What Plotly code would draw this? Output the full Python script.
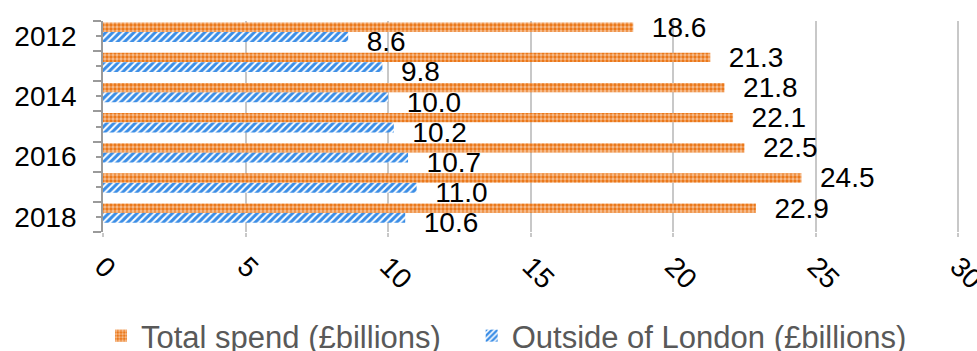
import plotly.graph_objects as go

# Data
years = ["2012", "2013", "2014", "2015", "2016", "2017", "2018"]
total_spend = [18.6, 21.3, 21.8, 22.1, 22.5, 24.5, 22.9]
outside_london = [8.6, 9.8, 10.0, 10.2, 10.7, 11.0, 10.6]
x_ticks = [0, 5, 10, 15, 20, 25, 30]
series_names = ["Total spend (£billions)", "Outside of London (£billions)"]

pos = list(range(len(years)))
year_labels = [y if i % 2 == 0 else "" for i, y in enumerate(years)]
bounds = [p - 0.5 for p in pos] + [pos[-1] + 0.5]

ORANGE = "#EA7210"
BLUE = "#3A8DE6"
AXIS = "#9A9A9A"
GRID = "#C8C8C8"
FONT = "Liberation Sans, Arial, sans-serif"
LABEL_SIZE = 28

fig = go.Figure()

# value labels of the blue series, placed slightly below the blue bars
fig.add_trace(go.Bar(
    y=pos, x=outside_london, orientation="h",
    offset=0.09, width=0.2,
    marker=dict(color="rgba(0,0,0,0)", line=dict(width=0)),
    text=[f"{v:.1f}" for v in outside_london],
    texttemplate="  %{text}", textposition="outside", constraintext="none",
    textfont=dict(size=LABEL_SIZE, color="black", family=FONT),
    cliponaxis=True, showlegend=False, hoverinfo="skip",
))

fig.add_trace(go.Bar(
    name=series_names[1],
    y=pos, x=outside_london, orientation="h",
    offset=-0.135, width=0.33,
    marker=dict(color=BLUE, line=dict(width=0),
                pattern=dict(shape="/", fillmode="replace", fgcolor=BLUE,
                             bgcolor="white", size=5, solidity=0.6)),
    legendrank=2,
))

fig.add_trace(go.Bar(
    name=series_names[0] + "\u00a0" * 3,
    y=pos, x=total_spend, orientation="h",
    offset=-0.447, width=0.31,
    marker=dict(color=ORANGE, line=dict(width=0),
                pattern=dict(shape=".", fillmode="overlay", fgcolor="white",
                             bgcolor=ORANGE, size=4, solidity=0.55)),
    text=[f"{v:.1f}" for v in total_spend],
    texttemplate="  %{text}", textposition="outside", constraintext="none",
    textfont=dict(size=LABEL_SIZE, color="black", family=FONT),
    cliponaxis=False, legendrank=1,
))

fig.update_layout(
    width=977, height=351,
    margin=dict(l=103, r=17, t=21, b=119, autoexpand=False),
    paper_bgcolor="white", plot_bgcolor="white",
    barmode="overlay",
    font=dict(family=FONT, size=LABEL_SIZE, color="black"),
    xaxis=dict(
        range=[0, 30.06], tickmode="array", tickvals=x_ticks,
        showgrid=True, gridcolor=GRID, gridwidth=1.5,
        zeroline=False, showline=False,
        ticks="outside", ticklen=4, tickcolor=GRID, tickwidth=1.5,
        tickangle=45, tickfont=dict(size=LABEL_SIZE, color="black"),
        ticklabelstandoff=2, ticklabeloverflow="allow", automargin=False,
    ),
    yaxis=dict(
        range=[6.5, -0.5], tickmode="array", tickvals=pos, ticktext=year_labels,
        showgrid=False, zeroline=False,
        showline=True, linecolor=AXIS, linewidth=1.5,
        ticks="outside", ticklen=5, tickcolor=AXIS, tickwidth=1.5,
        tickfont=dict(size=LABEL_SIZE, color="black"),
        ticklabelstandoff=14, automargin=False,
        minor=dict(tickmode="array", tickvals=bounds, ticks="outside",
                   ticklen=8, tickcolor=AXIS, tickwidth=1.5, showgrid=False),
    ),
    yaxis2=dict(
        overlaying="y", anchor="x", side="left",
        range=[6.5, -0.5], tickmode="array", tickvals=bounds,
        ticks="inside", ticklen=8, tickcolor=AXIS, tickwidth=1.5,
        showticklabels=False, showgrid=False, zeroline=False, showline=False,
        automargin=False,
    ),
    legend=dict(
        orientation="h", xref="container", yref="container",
        x=101 / 977, xanchor="left", y=1 - 336 / 351, yanchor="middle",
        font=dict(size=31, color="#595959"),
        bgcolor="rgba(0,0,0,0)",
    ),
    showlegend=True,
)

fig.write_html("out.html")
